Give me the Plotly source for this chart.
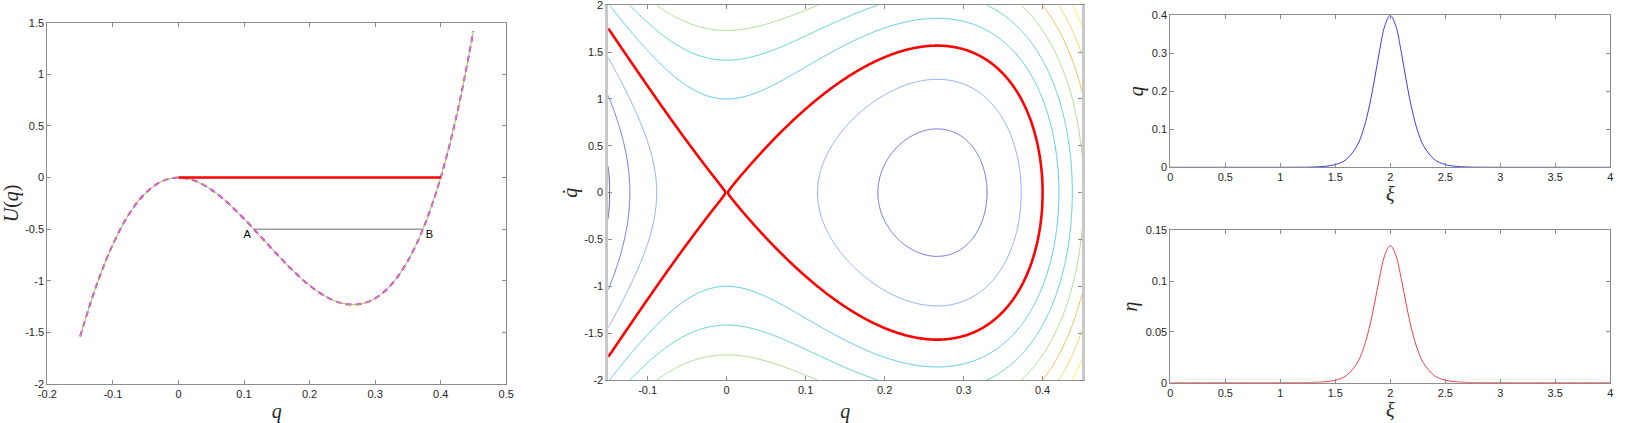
import numpy as np
import plotly.graph_objects as go

# ---------------- data ----------------
# Left panel: potential U(q)
q_pts = [-0.15, -0.125, -0.1, -0.075, -0.05, -0.025, 0.0, 0.025, 0.05, 0.075, 0.1,
         0.125, 0.15, 0.175, 0.2, 0.225, 0.25, 0.275, 0.3, 0.325, 0.35, 0.375,
         0.4, 0.425, 0.45]
U_pts = [-1.539, -1.043, -0.647, -0.350, -0.149, -0.035, 0.0, -0.031, -0.117, -0.244,
         -0.399, -0.569, -0.741, -0.904, -1.045, -1.154, -1.218, -1.228, -1.171,
         -1.035, -0.806, -0.468, 0.0, 0.620, 1.420]
sep_q = [0.0, 0.4]          # red level line U = 0
sep_U = [0.0, 0.0]
AB_q = [0.116, 0.372]       # chord A-B
AB_U = [-0.5, -0.5]
AB_labels = ["A", "B"]
AB_label_q = [0.105, 0.383]
AB_label_U = [-0.557, -0.557]

# Middle panel: energy levels of the phase portrait H = p^2/2 + U(q)
levels = [-1.5, -1.0, -0.5, 0.5, 1.0, 1.5, 2.0, 2.5, 3.0]
level_colors = ["#4a3fb3", "#6d6de8", "#8aa6fa", "#4fc6e8", "#4fd4c2",
                "#a6da84", "#eeb848", "#f2cc55", "#f6ee4a"]
separatrix_level = 0.0

# Right panels: solitary waves q(xi) and eta(xi)
xi_pts = [0.0, 0.5, 1.0, 1.2, 1.3, 1.4, 1.5, 1.6, 1.7, 1.75, 1.8, 1.85, 1.9, 1.95,
          2.0, 2.05, 2.1, 2.15, 2.2, 2.25, 2.3, 2.4, 2.5, 2.6, 2.7, 2.8, 3.0, 3.5, 4.0]
qwave = [0.0, 0.0, 0.00003, 0.00028, 0.00083, 0.00245, 0.00719, 0.0207, 0.0580,
         0.0944, 0.1483, 0.2206, 0.3028, 0.3722, 0.4, 0.3722, 0.3028, 0.2206,
         0.1483, 0.0944, 0.0580, 0.0207, 0.00719, 0.00245, 0.00083, 0.00028,
         0.00003, 0.0, 0.0]
eta = [0.0, 0.0, 0.00001, 0.000095, 0.00028, 0.00083, 0.0024, 0.0070, 0.0196,
       0.0319, 0.0500, 0.0744, 0.1022, 0.1256, 0.135, 0.1256, 0.1022, 0.0744,
       0.0500, 0.0319, 0.0196, 0.0070, 0.0024, 0.00083, 0.00028, 0.000095,
       0.00001, 0.0, 0.0]

# ---------------- figure ----------------
fig = go.Figure()

# left panel
fig.add_trace(go.Scatter(x=q_pts, y=U_pts, mode="lines", line_shape="spline",
                         line=dict(color="#ff00ff", width=2, dash="6px,4px"),
                         xaxis="x", yaxis="y", showlegend=False, hoverinfo="skip"))
fig.add_trace(go.Scatter(x=q_pts, y=U_pts, mode="lines", line_shape="spline",
                         line=dict(color="#93c954", width=1),
                         xaxis="x", yaxis="y", showlegend=False, hoverinfo="skip"))
fig.add_trace(go.Scatter(x=sep_q, y=sep_U, mode="lines",
                         line=dict(color="#ff0000", width=2.5),
                         xaxis="x", yaxis="y", showlegend=False, hoverinfo="skip"))
fig.add_trace(go.Scatter(x=AB_q, y=AB_U, mode="lines",
                         line=dict(color="#6e6e6e", width=1),
                         xaxis="x", yaxis="y", showlegend=False, hoverinfo="skip"))
fig.add_trace(go.Scatter(x=AB_label_q, y=AB_label_U, mode="text", text=AB_labels,
                         textfont=dict(family="Liberation Sans, Arial", size=11, color="#000"),
                         xaxis="x", yaxis="y", showlegend=False, hoverinfo="skip"))

# middle panel: contour table built from the read potential
coef = np.polyfit(q_pts, U_pts, 6)
qg = np.linspace(-0.15, 0.45, 577)
pg = np.linspace(-2.0, 2.0, 400)
Ug = np.polyval(coef, qg)
Z = 0.5 * pg[:, None] ** 2 + Ug[None, :]

for lev, col in zip(levels, level_colors):
    fig.add_trace(go.Contour(x=qg, y=pg, z=Z, xaxis="x2", yaxis="y2",
                             contours=dict(start=lev, end=lev, size=1, coloring="none"),
                             line=dict(color=col, width=1), showscale=False,
                             hoverinfo="skip"))
fig.add_trace(go.Contour(x=qg, y=pg, z=Z, xaxis="x2", yaxis="y2",
                         contours=dict(start=separatrix_level, end=separatrix_level,
                                       size=1, coloring="none"),
                         line=dict(color="#ff0000", width=2.6), showscale=False,
                         hoverinfo="skip"))

# right panels
fig.add_trace(go.Scatter(x=xi_pts, y=qwave, mode="lines", line_shape="spline",
                         line=dict(color="#3a3af0", width=1),
                         xaxis="x3", yaxis="y3", showlegend=False, hoverinfo="skip"))
fig.add_trace(go.Scatter(x=xi_pts, y=eta, mode="lines", line_shape="spline",
                         line=dict(color="#f04040", width=1),
                         xaxis="x4", yaxis="y4", showlegend=False, hoverinfo="skip"))


def fmt(v):
    return f"{v:g}"


def ticks(vals):
    return dict(tickvals=vals, ticktext=[fmt(v) for v in vals])


tickfont = dict(family="Liberation Sans, Arial", size=11, color="#262626")
titlefont = dict(family="Liberation Serif, Times New Roman", size=20, color="#262626")
common = dict(showgrid=False, zeroline=False, showline=True, linecolor="#8c8c8c",
              linewidth=1, mirror="ticks", ticks="inside", ticklen=4,
              tickcolor="#8c8c8c", tickfont=tickfont, automargin=False,
              ticklabeloverflow="allow")


def ax(domain, rng, tv, title, anchor, standoff, **kw):
    d = dict(common)
    d.update(domain=domain, range=rng, anchor=anchor,
             title=dict(text=title, font=titlefont, standoff=standoff))
    d.update(ticks(tv))
    d.update(kw)
    return d


xl = [0.0287, 0.3068]
yl = [0.0922, 0.9463]
xm = [0.3686, 0.6558]
ym = [0.1017, 0.9875]
xr = [0.7093, 0.9759]
yrt = [0.6045, 0.9638]
yrb = [0.0953, 0.4556]

fig.update_layout(
    width=1650, height=423,
    margin=dict(l=0, r=0, t=0, b=0),
    paper_bgcolor="white", plot_bgcolor="white",
    showlegend=False,
    xaxis=ax(xl, [-0.2, 0.5], [-0.2, -0.1, 0, 0.1, 0.2, 0.3, 0.4, 0.5], "<i>q</i>", "y", 5),
    yaxis=ax(yl, [-2, 1.5], [-2, -1.5, -1, -0.5, 0, 0.5, 1, 1.5], "<i>U</i>(<i>q</i>)", "x", 2),
    xaxis2=ax(xm, [-0.15, 0.45], [-0.1, 0, 0.1, 0.2, 0.3, 0.4], "<i>q</i>", "y2", 9),
    yaxis2=ax(ym, [-2, 2], [-2, -1.5, -1, -0.5, 0, 0.5, 1, 1.5, 2], "<i>q\u0307</i>", "x2", 2,
              linecolor="#c8c8c8", linewidth=2.5),
    xaxis3=ax(xr, [0, 4], [0, 0.5, 1, 1.5, 2, 2.5, 3, 3.5, 4], "<i>ξ</i>", "y3", 1),
    yaxis3=ax(yrt, [0, 0.4], [0, 0.1, 0.2, 0.3, 0.4], "<i>q</i>", "x3", 2),
    xaxis4=ax(xr, [0, 4], [0, 0.5, 1, 1.5, 2, 2.5, 3, 3.5, 4], "<i>ξ</i>", "y4", 1),
    yaxis4=ax(yrb, [0, 0.15], [0, 0.05, 0.1, 0.15], "<i>η</i>", "x4", 2),
)

fig.write_html("out.html", config={"displayModeBar": False},
               post_script="document.body.style.margin='0';document.body.style.overflow='hidden';")
